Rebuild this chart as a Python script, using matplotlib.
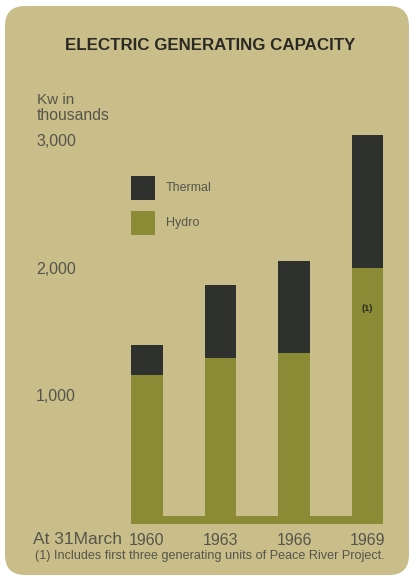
import matplotlib
matplotlib.use("Agg")
import matplotlib.pyplot as plt
from matplotlib.patches import FancyBboxPatch, Rectangle
from matplotlib.transforms import IdentityTransform

# Capacity at 31 March, thousands of kW
years = ["1960", "1963", "1966", "1969"]
hydro = [1160, 1290, 1330, 2000]
thermal = [230, 570, 720, 1040]
y_ticks = [1000, 2000, 3000]
y_tick_labels = ["1,000", "2,000", "3,000"]

BG = "#c9be89"
HYDRO = "#8b8a35"
THERMAL = "#2e312d"
TEXT = "#55554b"
DARK = "#2a2a24"
FONT = "Liberation Sans"

W, H = 412, 580
fig = plt.figure(figsize=(W / 100, H / 100), dpi=100)
fig.patch.set_facecolor("white")

# rounded card behind everything, in display pixels
card = FancyBboxPatch((5, 5), 404, 569, boxstyle="round,pad=0,rounding_size=20",
                      transform=IdentityTransform(), facecolor=BG,
                      edgecolor="none", zorder=0)
fig.add_artist(card)

px_per_unit = 73.5
x0_px = 147
ymin, ymax = -60, 3100
y0_px = 522.5 - ymin * 0.1275          # pixel row (from top) of ymin
ytop_px = 522.5 - ymax * 0.1275
left_px, right_px = 110, 400
ax = fig.add_axes([left_px / W, (H - y0_px) / H,
                   (right_px - left_px) / W, (y0_px - ytop_px) / H])
ax.set_xlim((left_px - x0_px) / px_per_unit, (right_px - x0_px) / px_per_unit)
ax.set_ylim(ymin, ymax)
ax.patch.set_visible(False)
for s in ax.spines.values():
    s.set_visible(False)

xs = list(range(len(years)))
width = 0.435

# base strip joining the bars
ax.add_patch(Rectangle((xs[0] - width / 2, -12), xs[-1] - xs[0] + width, 63,
                       facecolor=HYDRO, edgecolor="none", zorder=1))
ax.bar(xs, hydro, width=width, color=HYDRO, zorder=2)
ax.bar(xs, thermal, width=width, bottom=hydro, color=THERMAL, zorder=2)

ax.text(xs[-1], 1675, "(1)", ha="center", va="center", fontsize=6.5,
        color=DARK, family=FONT, fontweight="bold")

ax.set_yticks(y_ticks, y_tick_labels)
ax.set_xticks(xs, years)
ax.tick_params(axis="y", length=0, pad=(left_px - 36) * 0.72,
               labelsize=11.5, labelcolor=TEXT)
ax.tick_params(axis="x", length=0, pad=2, labelsize=11.5, labelcolor=TEXT)
for lab in ax.get_yticklabels():
    lab.set_horizontalalignment("left")
    lab.set_family(FONT)
for lab in ax.get_xticklabels():
    lab.set_family(FONT)

# key: square swatches with labels, placed in figure pixels (top-left origin)
key = [("Thermal", THERMAL, 176), ("Hydro", HYDRO, 211)]
for name, color, top in key:
    fig.add_artist(Rectangle((131, H - top - 24), 24, 24, facecolor=color,
                             edgecolor="none", transform=IdentityTransform()))
    fig.text(166 / W, 1 - (top + 12) / H, name, ha="left", va="center",
             fontsize=9, color=TEXT, family=FONT)

fig.text(210 / W, 1 - 45 / H, "ELECTRIC GENERATING CAPACITY", ha="center",
         va="center", fontsize=12.2, fontweight="bold", color=DARK,
         family=FONT)
fig.text(37 / W, 1 - 100 / H, "Kw in", ha="left", va="center", fontsize=11,
         color=TEXT, family=FONT)
fig.text(37 / W, 1 - 115 / H, "thousands", ha="left", va="center",
         fontsize=11.3, color=TEXT, family=FONT)
fig.text(33 / W, 1 - 539 / H, "At 31March", ha="left", va="center",
         fontsize=12.5, color=TEXT, family=FONT)
fig.text(35 / W, 1 - 556 / H,
         "(1) Includes first three generating units of Peace River Project.",
         ha="left", va="center", fontsize=9.1, color=TEXT, family=FONT)

fig.savefig("out.png", dpi=100, facecolor="white")
